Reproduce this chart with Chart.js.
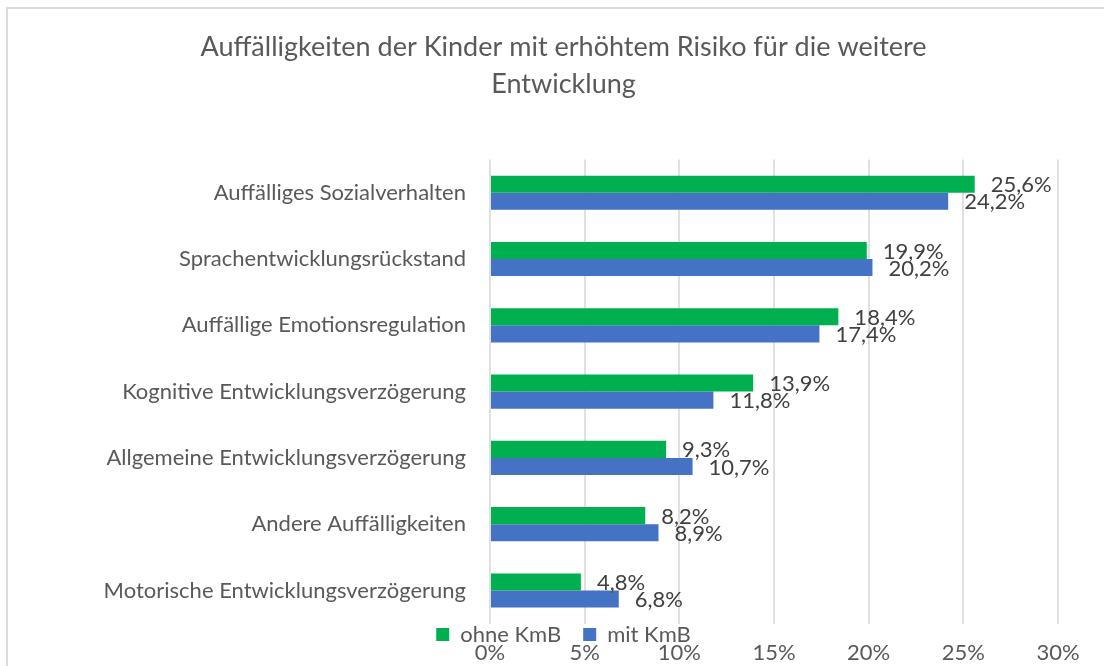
<!DOCTYPE html>
<html>
<head>
<meta charset="utf-8">
<script src="https://cdn.jsdelivr.net/npm/chart.js@4.4.1/dist/chart.umd.min.js"></script>
<style>
  html, body { margin: 0; padding: 0; background: #fff; overflow: hidden; }
  #frame { position: absolute; left: 6px; top: 7px; width: 1200px; height: 800px; border: 2px solid #dcdcdc; }
  #wrap { position: absolute; left: 0; top: 0; width: 1104px; height: 666px; }
</style>
</head>
<body>
<div id="frame"></div>
<div id="wrap"><canvas id="chart"></canvas></div>
<script>
const titleLines = ['Auffälligkeiten der Kinder mit erhöhtem Risiko für die weitere', 'Entwicklung'];
const categories = [
  'Auffälliges Sozialverhalten',
  'Sprachentwicklungsrückstand',
  'Auffällige Emotionsregulation',
  'Kognitive Entwicklungsverzögerung',
  'Allgemeine Entwicklungsverzögerung',
  'Andere Auffälligkeiten',
  'Motorische Entwicklungsverzögerung'
];
const ohneKmB = [25.6, 19.9, 18.4, 13.9, 9.3, 8.2, 4.8];
const mitKmB = [24.2, 20.2, 17.4, 11.8, 10.7, 8.9, 6.8];
const seriesNames = ['ohne KmB', 'mit KmB'];

const FONT = 'Lato';
const GREY = '#595959';

function fmtPct(v) {
  return v.toFixed(1).replace('.', ',') + '%';
}

// labels right of each bar end
const valueLabels = {
  id: 'valueLabels',
  afterDatasetsDraw(chart) {
    const ctx = chart.ctx;
    ctx.save();
    ctx.font = '22px ' + FONT;
    ctx.fillStyle = '#404040';
    ctx.textAlign = 'left';
    ctx.textBaseline = 'middle';
    chart.data.datasets.forEach((ds, i) => {
      chart.getDatasetMeta(i).data.forEach((bar, j) => {
        ctx.fillText(fmtPct(ds.data[j]), bar.x + 16, bar.y + 1);
      });
    });
    ctx.restore();
  }
};

// pull the legend up so it sits tight under the plot, above the x ticks
// (box is kept tall enough so the legend clip doesn't cut the text)
const legendShift = {
  id: 'legendShift',
  afterLayout(chart) {
    const lg = chart.legend;
    const pad = lg.options.labels.padding;
    lg.top -= pad;
    lg.bottom += 20;
    lg.height = lg.bottom - lg.top;
  }
};

new Chart(document.getElementById('chart'), {
  type: 'bar',
  data: {
    labels: categories,
    datasets: [
      { label: seriesNames[0], data: ohneKmB, backgroundColor: '#00B050' },
      { label: seriesNames[1], data: mitKmB, backgroundColor: '#4472C4' }
    ]
  },
  options: {
    indexAxis: 'y',
    responsive: true,
    maintainAspectRatio: false,
    animation: false,
    categoryPercentage: 0.515,
    barPercentage: 1,
    layout: { padding: { left: 69, right: 46, top: 0, bottom: 0 } },
    scales: {
      x: {
        min: 0,
        max: 30,
        weight: 2000,
        grid: { color: '#e0e0e0', lineWidth: 2, drawTicks: false },
        border: { display: false },
        ticks: {
          stepSize: 5,
          color: GREY,
          padding: 0,
          font: { family: FONT, size: 22 },
          callback: v => v + '%'
        }
      },
      y: {
        grid: { display: false, drawTicks: false },
        border: { display: false },
        ticks: {
          color: GREY,
          padding: 24,
          font: { family: FONT, size: 22 }
        },
        afterFit(scale) { scale.width = 421; }
      }
    },
    plugins: {
      title: {
        display: true,
        text: titleLines,
        color: GREY,
        font: { family: FONT, size: 27, weight: 'normal', lineHeight: 1.4 },
        padding: { top: 28, bottom: 56 }
      },
      legend: {
        position: 'bottom',
        maxHeight: 16,
        labels: {
          color: GREY,
          boxWidth: 13,
          boxHeight: 13,
          padding: 22,
          font: { family: FONT, size: 22 }
        }
      },
      tooltip: { enabled: false }
    }
  },
  plugins: [valueLabels, legendShift]
});
</script>
</body>
</html>
